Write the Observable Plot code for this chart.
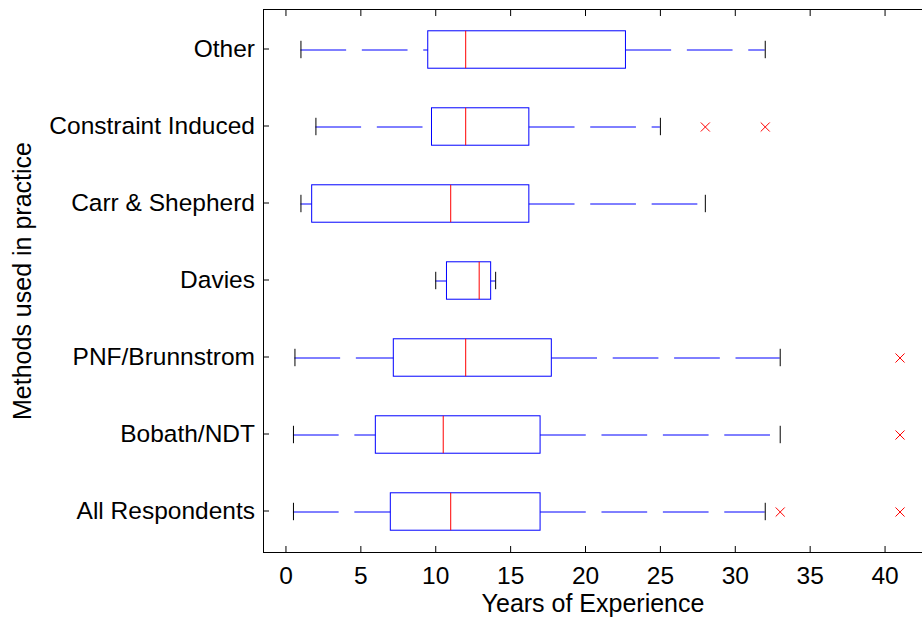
<!DOCTYPE html>
<html><head><meta charset="utf-8">
<script src="https://cdn.jsdelivr.net/npm/d3@7"></script>
<script src="https://cdn.jsdelivr.net/npm/@observablehq/plot@0.6"></script>
<style>
html,body{margin:0;padding:0;background:#fff;overflow:hidden}
#chart svg{display:block}
</style>
</head><body><div id="chart"></div>
<script>
const categories = ["Other","Constraint Induced","Carr & Shepherd","Davies","PNF/Brunnstrom","Bobath/NDT","All Respondents"];
const mins    = [1,    2,     1,     10,    0.6,   0.5, 0.5];
const q1s     = [9.5,  9.75,  1.75,  10.75, 7.2,   6,   7];
const medians = [12,   12,    11,    12.9,  12,    10.5,11];
const q3s     = [22.7, 16.25, 16.25, 13.7,  17.75, 17,  17];
const maxs    = [32,   25,    28,    14,    33,    33,  32];
const outlierCats = ["Constraint Induced","Constraint Induced","PNF/Brunnstrom","Bobath/NDT","All Respondents","All Respondents"];
const outlierVals = [28, 32, 41, 41, 33, 41];
const xTicks = [0,5,10,15,20,25,30,35,40];
const xTitle = "Years of Experience";
const yTitle = "Methods used in practice";

const rows = categories.map((c,i) => ({cat:c, min:mins[i], q1:q1s[i], med:medians[i], q3:q3s[i], max:maxs[i]}));
const outliers = outlierCats.map((c,i) => ({cat:c, v:outlierVals[i]}));

const W = 922, H = 620, mT = 9, mB = 68, mL = 263, mR = 0;
const step = (H - mT - mB) / categories.length;
const boxInset = (step - 38) / 2;
const capInset = (step - 18) / 2;

const chart = Plot.plot({
  width: W, height: H,
  marginTop: mT, marginBottom: mB, marginLeft: mL, marginRight: mR,
  style: {fontFamily: "'Liberation Sans', Arial, Helvetica, sans-serif", fontSize: "24.5px", color: "#000", background: "#fff"},
  x: {domain: [-1.5, 42.5]},
  y: {type: "band", domain: categories, padding: 0},
  marks: [
    Plot.frame({anchor: "top", stroke: "#000"}),
    Plot.frame({anchor: "bottom", stroke: "#000"}),
    Plot.frame({anchor: "left", stroke: "#000"}),
    Plot.axisX(xTicks, {anchor: "bottom", tickSize: -6, tickPadding: 20.5, label: null, fontSize: 24.5}),
    Plot.axisX(xTicks, {anchor: "top", tickSize: -6, tickFormat: () => "", label: null}),
    Plot.axisY({anchor: "left", tickSize: -6, tickPadding: 14.5, label: null, fontSize: 24.5, dy: -1}),
    Plot.ruleY(rows, {y: "cat", x1: "min", x2: "q1", stroke: "#0000ff", strokeWidth: 1, strokeDasharray: "45.7,15.7"}),
    Plot.ruleY(rows, {y: "cat", x1: "q3", x2: "max", stroke: "#0000ff", strokeWidth: 1, strokeDasharray: "45.7,15.7"}),
    Plot.tickX(rows, {x: "min", y: "cat", stroke: "#000", insetTop: capInset, insetBottom: capInset}),
    Plot.tickX(rows, {x: "max", y: "cat", stroke: "#000", insetTop: capInset, insetBottom: capInset}),
    Plot.barX(rows, {x1: "q1", x2: "q3", y: "cat", fill: "none", stroke: "#0000ff", strokeWidth: 1, insetTop: boxInset, insetBottom: boxInset}),
    Plot.tickX(rows, {x: "med", y: "cat", stroke: "#ff0000", insetTop: boxInset, insetBottom: boxInset}),
    Plot.dot(outliers, {x: "v", y: "cat", symbol: "times", r: 4.2, stroke: "#ff0000", strokeWidth: 1}),
    Plot.text([xTitle], {frameAnchor: "bottom", text: d => d, dy: 59, fontSize: 25, fill: "#000"}),
    Plot.text([yTitle], {frameAnchor: "left", text: d => d, rotate: -90, textAnchor: "middle", dx: -241, fontSize: 25, fill: "#000"})
  ]
});
document.getElementById("chart").appendChild(chart);
</script>
</body></html>
